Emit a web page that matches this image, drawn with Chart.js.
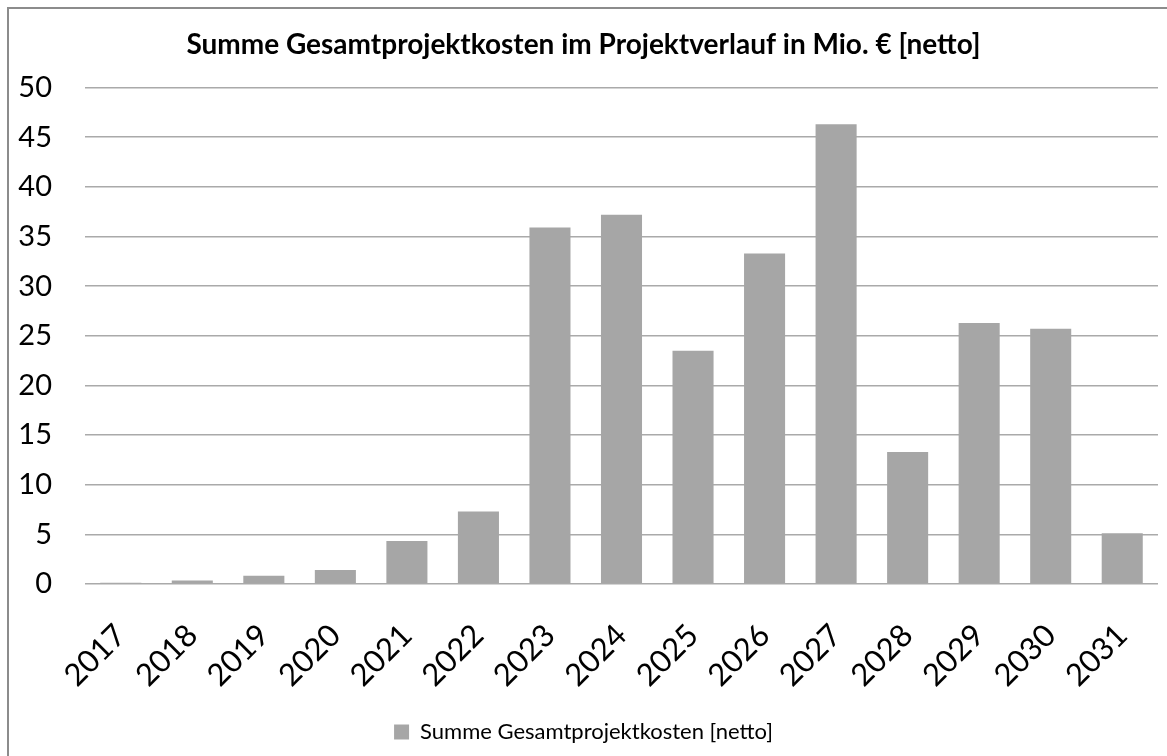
<!DOCTYPE html>
<html lang="de">
<head>
<meta charset="utf-8">
<title>Gesamtprojektkosten</title>
<script src="https://cdn.jsdelivr.net/npm/chart.js@4.4.1/dist/chart.umd.min.js"></script>
<style>
  html, body { margin: 0; padding: 0; background: #fff; overflow: hidden; }
  #frame {
    position: absolute; left: 7px; top: 7px;
    width: 1180px; height: 770px;
    border: 2px solid #8c8c8c;
    box-sizing: border-box;
  }
  #wrap { position: absolute; left: 0; top: 0; width: 1167px; height: 756px; }
</style>
</head>
<body>
<div id="frame"></div>
<div id="wrap"><canvas id="kostenChart"></canvas></div>
<script>
const jahre = ["2017", "2018", "2019", "2020", "2021", "2022", "2023", "2024",
  "2025", "2026", "2027", "2028", "2029", "2030", "2031"];
const kosten = [0.13, 0.36, 0.83, 1.4, 4.33, 7.3, 35.9, 37.2,
  23.5, 33.3, 46.3, 13.3, 26.3, 25.7, 5.1];
const yTicks = [0, 5, 10, 15, 20, 25, 30, 35, 40, 45, 50];

const schrift = "Lato, 'Open Sans', sans-serif";
const balkenFarbe = "#a6a6a6";

const ctx = document.getElementById("kostenChart").getContext("2d");

new Chart(ctx, {
  type: "bar",
  data: {
    labels: jahre,
    datasets: [
      {
        label: "Summe Gesamtprojektkosten [netto]",
        data: kosten,
        backgroundColor: balkenFarbe,
        borderWidth: 0,
        barPercentage: 0.574,
        categoryPercentage: 1,
      },
    ],
  },
  options: {
    responsive: true,
    maintainAspectRatio: false,
    animation: false,
    layout: { padding: { top: 8, left: 0, right: 0, bottom: 3 } },
    plugins: {
      title: {
        display: true,
        text: "Summe Gesamtprojektkosten im Projektverlauf in Mio. € [netto]",
        color: "#000",
        font: { family: schrift, size: 28, weight: "bold" },
        padding: { top: 20, bottom: 26 },
      },
      legend: {
        position: "bottom",
        labels: {
          color: "#000",
          font: { family: schrift, size: 22 },
          boxWidth: 15,
          boxHeight: 15,
          padding: 10,
        },
      },
      tooltip: { enabled: false },
    },
    scales: {
      x: {
        grid: { display: false },
        border: { display: false },
        ticks: {
          color: "#000",
          font: { family: schrift, size: 31 },
          minRotation: 45,
          maxRotation: 45,
          autoSkip: false,
          padding: 25,
        },
        afterFit: (scale) => {
          // feste Höhe, rechter Rand unabhängig vom letzten Label
          scale.height = 127;
          scale.paddingLeft = 0;
          scale.paddingRight = 9;
        },
      },
      y: {
        min: 0,
        max: 50,
        afterBuildTicks: (scale) => {
          scale.ticks = yTicks.map((v) => ({ value: v }));
        },
        grid: { color: "#aaaaaa", lineWidth: 1.5, drawTicks: false },
        border: { display: false },
        ticks: {
          color: "#000",
          font: { family: schrift, size: 29 },
          padding: 33,
        },
        afterFit: (scale) => { scale.width = 85; },
      },
    },
  },
});
</script>
</body>
</html>
